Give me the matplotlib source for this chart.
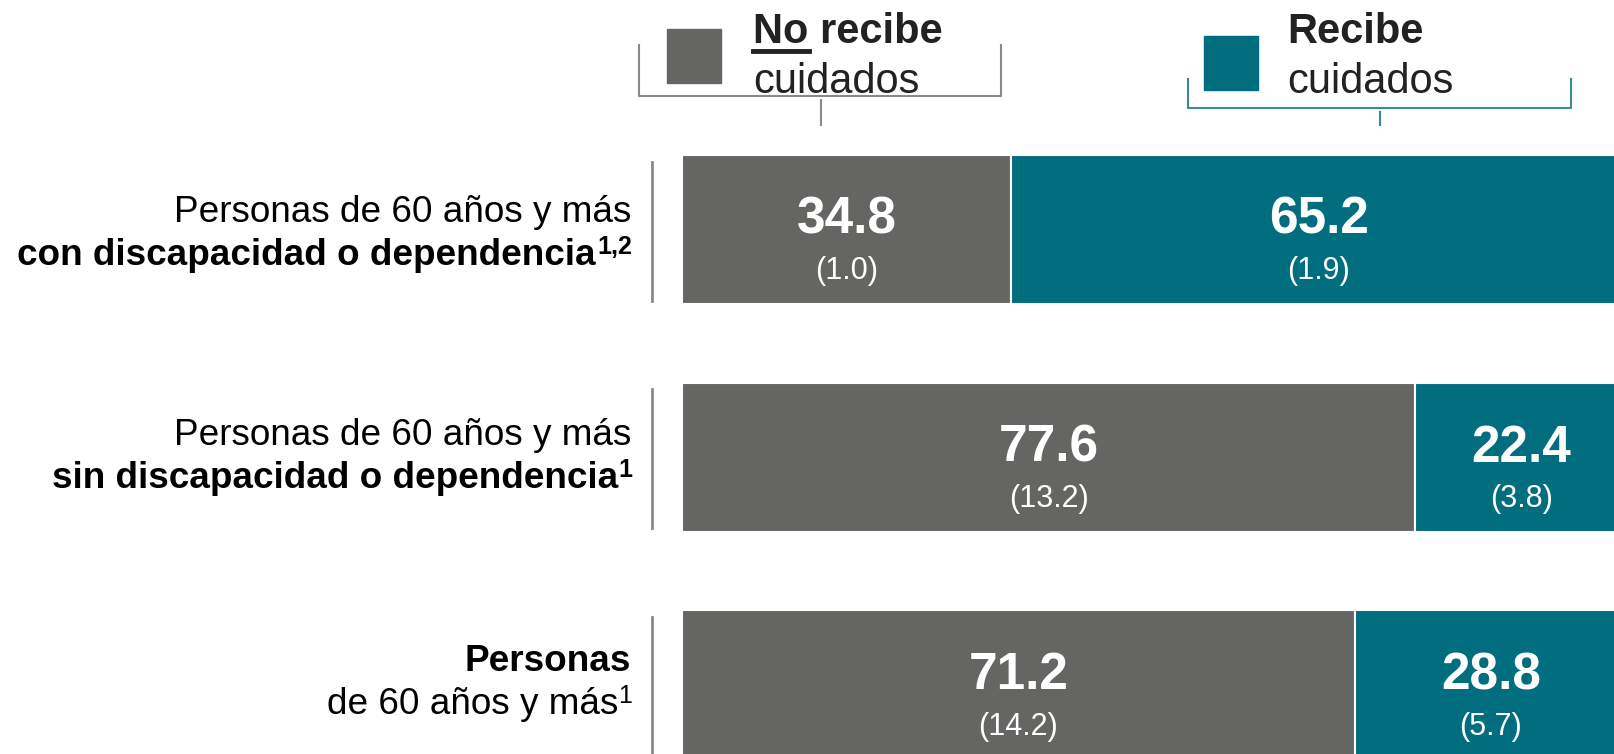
import matplotlib.pyplot as plt
from matplotlib.patches import Rectangle
from matplotlib.lines import Line2D

plt.rcParams['font.family'] = ['Liberation Sans', 'DejaVu Sans']

# datos
linea1 = ['Personas de 60 años y más', 'Personas de 60 años y más', 'Personas']
linea2 = ['con discapacidad o dependencia', 'sin discapacidad o dependencia', 'de 60 años y más']
negrita1 = [False, False, True]
negrita2 = [True, True, False]
notas = ['1,2', '1', '1']
no_recibe = [34.8, 77.6, 71.2]
recibe = [65.2, 22.4, 28.8]
ee_no = [1.0, 13.2, 14.2]
ee_si = [1.9, 3.8, 5.7]

gris = '#656563'
verde = '#006e7f'
texto = '#222222'

W, H = 1614, 754
fig = plt.figure(figsize=(W / 100, H / 100), dpi=100)

def px(x, y):
    return x / W, 1 - y / H

# eje de barras: desde x=682 hasta el borde derecho
ax = fig.add_axes([682 / W, 0, (W - 682) / W, 1])
paso = 227.5
ax.set_ylim((H - 229.5) / paso, -229.5 / paso)
ax.set_xlim(0, (W - 682) / 945 * 100)
ax.axis('off')

pos = list(range(len(no_recibe)))
alto = 149 / paso
ax.barh(pos, no_recibe, height=alto, color=gris, edgecolor='white', linewidth=1.5)
ax.barh(pos, recibe, left=no_recibe, height=alto, color=verde, edgecolor='white', linewidth=1.5)

for i in pos:
    segs = [(no_recibe[i] / 2, no_recibe[i], ee_no[i]),
            (no_recibe[i] + recibe[i] / 2, recibe[i], ee_si[i])]
    for xc, v, e in segs:
        ax.text(xc, i - 9 / paso, f'{v:.1f}', ha='center', va='center',
                color='white', fontsize=37, fontweight='bold')
        ax.text(xc, i + 42 / paso, f'({e:.1f})', ha='center', va='center',
                color='white', fontsize=22)

# separadores verticales a la izquierda
tr = ax.get_yaxis_transform()
for i in pos:
    ax.plot([-30 / (W - 682)] * 2, [i - 68 / paso, i + 71 / paso], color='#8a8a8a',
            lw=2, transform=tr, clip_on=False)

# etiquetas de categorias (lineas base en pixeles)
base1 = [222, 445, 671]
base2 = [265, 488, 714]
ancho_nota = {'1,2': 35, '1': 13}
for i in pos:
    fig.text(*px(631, base1[i]), linea1[i], ha='right', va='baseline',
             fontsize=26.6, color='black', fontweight='bold' if negrita1[i] else 'normal')
    fig.text(*px(631 - ancho_nota[notas[i]], base2[i]), linea2[i], ha='right', va='baseline',
             fontsize=26.6, color='black', fontweight='bold' if negrita2[i] else 'normal')
    fig.text(*px(632, base2[i] - 11), notas[i], ha='right', va='baseline',
             fontsize=18, color='black', fontweight='bold' if negrita2[i] else 'normal')

# leyenda
def caja(x0, y0, x1, y1, c):
    fig.add_artist(Rectangle(px(x0, y1), (x1 - x0) / W, (y1 - y0) / H, color=c,
                             transform=fig.transFigure))

def linea(xs, ys, c, lw=1.5):
    fig.add_artist(Line2D([x / W for x in xs], [1 - y / H for y in ys], color=c, lw=lw,
                          transform=fig.transFigure))

caja(667, 29, 721, 83, gris)
fig.text(*px(753, 43), 'No recibe', fontsize=30, fontweight='bold', color=texto, va='baseline')
linea([753, 809], [51, 51], texto, lw=3.5)
fig.text(*px(753, 93), 'cuidados', fontsize=30, color=texto, va='baseline')
linea([639, 639, 1001, 1001], [45, 96, 96, 45], '#8a8a8a')
linea([821, 821], [100, 125], '#8a8a8a')

caja(1204, 36, 1258, 90, verde)
fig.text(*px(1287, 43), 'Recibe', fontsize=30, fontweight='bold', color=texto, va='baseline')
fig.text(*px(1287, 93), 'cuidados', fontsize=30, color=texto, va='baseline')
linea([1188, 1188, 1571, 1571], [79, 108, 108, 79], '#3a8b97')
linea([1380, 1380], [112, 125], '#3a8b97')

fig.savefig('out.png', dpi=100)
